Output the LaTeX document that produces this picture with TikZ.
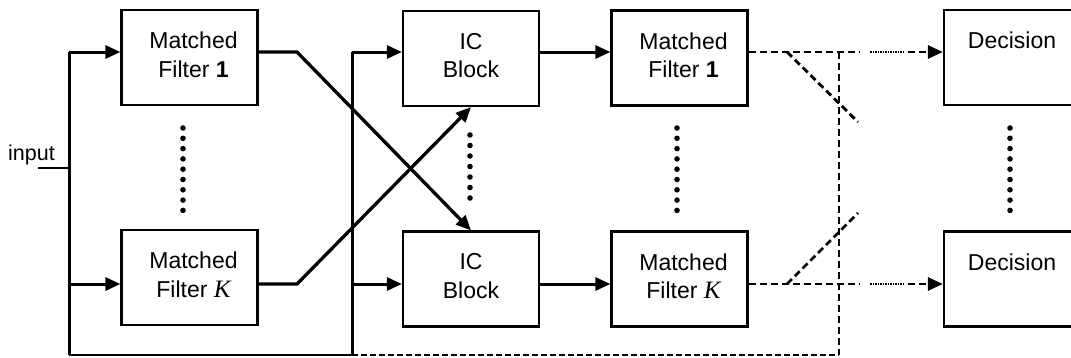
\documentclass[tikz,border=0pt]{standalone}
\usepackage{fontspec}
\setmainfont{Liberation Sans}
\newfontfamily\kfont{Liberation Serif}
\usetikzlibrary{arrows.meta,calc}
\newcommand{\userK}{{\kfont\itshape\fontsize{25}{28}\selectfont K}}
\newcommand{\lowpad}{\rule[-6pt]{0pt}{6pt}}
\begin{document}
\begin{tikzpicture}[x=1pt,y=-1pt,
  blk/.style={draw,line width=2.2pt,minimum width=136pt,minimum height=95pt,
    inner sep=0pt,align=center,font=\fontsize{23}{28.5}\selectfont},
  wire/.style={line width=3pt},
  sig/.style={wire,-{Triangle[length=15pt,width=13pt]}},
  dsh/.style={line width=2.8pt,dash pattern=on 7pt off 4pt},
  dsig/.style={dsh,-{Triangle[length=15pt,width=13pt]}},
  fbk/.style={line width=1.6pt}]
\useasboundingbox (0,0) rectangle (1071,357);

% row levels of the signal paths
\coordinate (rowA) at (0,52);
\coordinate (rowB) at (0,284);

% blocks
\node[blk] (mf1)  at (189.5,57.5) {\hspace*{8pt}Matched\\\hspace*{8pt}Filter \textbf{1}\lowpad};
\node[blk] (mfk)  at (189.5,277.5) {\hspace*{8pt}Matched\\\hspace*{8pt}Filter \userK\lowpad};
\node[blk] (ic1)  at (471,58.5) {IC\\Block\lowpad};
\node[blk] (ick)  at (471,279) {IC\\Block\lowpad};
\node[blk] (mf21) at (679.5,58) {\hspace*{8pt}Matched\\\hspace*{8pt}Filter \textbf{1}\lowpad};
\node[blk] (mf2k) at (679.5,279) {\hspace*{8pt}Matched\\\hspace*{8pt}Filter \userK\lowpad};
\node[blk] (d1)   at (1012,57.5) {Decision\\\phantom{Block}\lowpad};
\node[blk] (dk)   at (1012,279) {Decision\\\phantom{Block}\lowpad};

% input
\node[anchor=base west,inner sep=0pt,font=\fontsize{21.5}{24}\selectfont] (inlbl) at (8,160) {input};
\coordinate (inA) at (38,168);
\coordinate (inB) at (69,168);
\draw[fbk] (inA) -- (inB);

% left distribution bus and feedback line
\coordinate (lTop) at (69,52);
\coordinate (lBot) at (69,284);
\coordinate (busL) at (69,355);
\coordinate (mTop) at (352,52);
\coordinate (mBot) at (352,284);
\coordinate (busM) at (352,355);
\coordinate (busR) at (839,355);
\draw[wire] (lTop) -- (busL);
\draw[sig] (lTop) -- (mf1.west |- rowA);
\draw[sig] (lBot) -- (mfk.west |- rowB);
\draw[fbk] (busL) -- (busM);
\draw[fbk,dash pattern=on 6pt off 3pt] (busM) -- (busR);
\draw[wire] (mTop) -- (busM);
\draw[sig] (mTop) -- (ic1.west |- rowA);
\draw[sig] (mBot) -- (ick.west |- rowB);

% crossed connections into the IC blocks
\coordinate (kA) at (297,52);
\coordinate (kB) at (297,284);
\draw[sig,line width=3.3pt] (mf1.east |- rowA) -- (kA) -- (ick.north);
\draw[sig,line width=3.3pt] (mfk.east |- rowB) -- (kB) -- (ic1.south);

% IC blocks to the second matched filters
\draw[sig] (ic1.east |- rowA) -- (mf21.west |- rowA);
\draw[sig] (ick.east |- rowB) -- (mf2k.west |- rowB);

% dashed paths to the decision blocks
\coordinate (a1) at (860,52);
\coordinate (a2) at (870,52);
\coordinate (a3) at (903,52);
\coordinate (a4) at (908,52);
\draw[dsh] (mf21.east |- rowA) -- (a1);
\draw[line width=1.4pt,dash pattern=on 1.5pt off 1pt] (a2) -- (a3);
\draw[dsig] (a4) -- (d1.west |- rowA);
\coordinate (b1) at (860,284);
\coordinate (b2) at (870,284);
\coordinate (b3) at (903,284);
\coordinate (b4) at (908,284);
\draw[dsh] (mf2k.east |- rowB) -- (b1);
\draw[line width=1.4pt,dash pattern=on 1.5pt off 1pt] (b2) -- (b3);
\draw[dsig] (b4) -- (dk.west |- rowB);

% feedback tap and switches
\coordinate (vTop) at (839,52);
\draw[dsh] (vTop) -- (busR);
\coordinate (s1a) at (787,52);
\coordinate (s1b) at (858,122);
\coordinate (s2a) at (787,284);
\coordinate (s2b) at (858,213);
\draw[dsh] (s1a) -- (s1b);
\draw[dsh] (s2a) -- (s2b);

% vertical ellipses between the rows
\foreach \i in {0,...,8} {
  \fill (183,128+\i*10.3) circle (2.8pt);
  \fill (677,128+\i*10.3) circle (2.8pt);
  \fill (1010,128+\i*10.3) circle (2.8pt);
}
\foreach \i in {0,...,6} {
  \fill (470,135+\i*10.5) circle (2.8pt);
}
\end{tikzpicture}
\end{document}
